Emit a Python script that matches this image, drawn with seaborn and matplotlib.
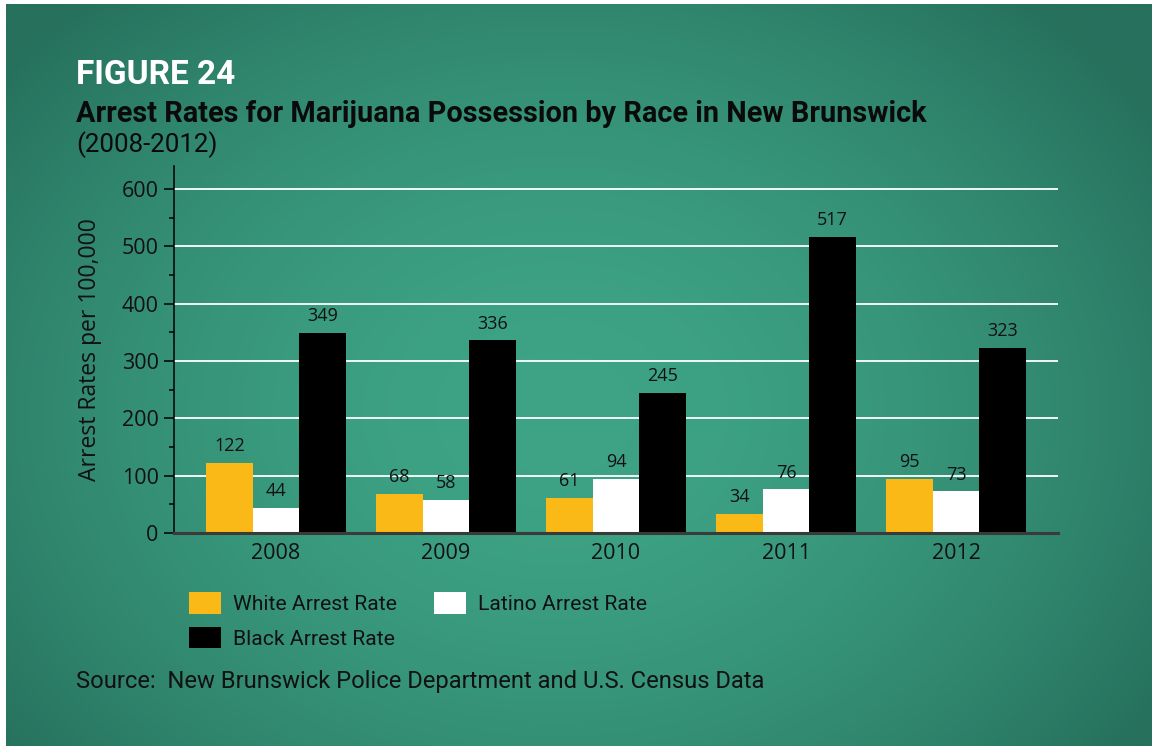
import numpy as np
import pandas as pd
import matplotlib
matplotlib.use("Agg")
import matplotlib.pyplot as plt
from matplotlib.patches import Patch
from matplotlib.ticker import MultipleLocator
import seaborn as sns

# ---- data -------------------------------------------------------------
years = ["2008", "2009", "2010", "2011", "2012"]
white_rate = [122, 68, 61, 34, 95]
latino_rate = [44, 58, 94, 76, 73]
black_rate = [349, 336, 245, 517, 323]
series_names = ["White Arrest Rate", "Latino Arrest Rate", "Black Arrest Rate"]
y_ticks = [0, 100, 200, 300, 400, 500, 600]

colors = {"White Arrest Rate": "#FBB917",
          "Latino Arrest Rate": "#FFFFFF",
          "Black Arrest Rate": "#000000"}

df = pd.DataFrame({
    "Year": years * 3,
    "Series": [series_names[0]] * 5 + [series_names[1]] * 5 + [series_names[2]] * 5,
    "Rate": white_rate + latino_rate + black_rate,
})

# ---- figure -----------------------------------------------------------
W, H = 1153, 746
sns.set_theme(style="white")
plt.rcParams["font.family"] = ["Roboto", "DejaVu Sans"]
BODY = ["Open Sans", "DejaVu Sans"]
fig = plt.figure(figsize=(W / 100, H / 100), dpi=100, facecolor="white")


def fx(px):
    return px / W


def fy(py):
    return 1 - py / H


# green panel with a soft radial glow
bg = fig.add_axes([fx(6), 0, fx(1152) - fx(6), fy(4)])
bg.set_axis_off()
ny, nx = 300, 460
yy, xx = np.mgrid[0:ny, 0:nx]
cx, cy = nx * 0.48, ny * 0.55
r = np.sqrt(((xx - cx) / (nx * 0.62)) ** 2 + ((yy - cy) / (ny * 0.75)) ** 2)
t = np.clip(r, 0, 1) ** 1.8
inner = np.array([62, 164, 133]) / 255
outer = np.array([38, 112, 92]) / 255
img = inner[None, None, :] * (1 - t[..., None]) + outer[None, None, :] * t[..., None]
bg.imshow(img, aspect="auto", extent=[0, 1, 0, 1], interpolation="bicubic")
bg.set_xlim(0, 1)
bg.set_ylim(0, 1)

# main chart
left, right, bottom, top = 174, 1058, 533, 166
ax = fig.add_axes([fx(left), fy(bottom), fx(right) - fx(left), fy(top) - fy(bottom)])
ax.set_facecolor("none")

sns.barplot(data=df, x="Year", y="Rate", hue="Series", hue_order=series_names,
            palette=colors, width=0.82, dodge=True, saturation=1,
            edgecolor="none", linewidth=0, ax=ax, legend=False, zorder=3)

ax.set_xlim(-0.6, 4.6)
ax.set_ylim(0, 640)
ax.set_yticks(y_ticks)
ax.yaxis.set_minor_locator(MultipleLocator(50))
for yv in y_ticks[1:]:
    ax.axhline(yv, color="white", lw=1.3, zorder=1)

for cont in ax.containers:
    ax.bar_label(cont, fmt="%d", padding=5.5, fontsize=13, color="#111111",
                 family=BODY)

for s in ["top", "right"]:
    ax.spines[s].set_visible(False)
ax.spines["left"].set_color("black")
ax.spines["left"].set_linewidth(1.1)
ax.spines["bottom"].set_color("#3a3a3a")
ax.spines["bottom"].set_linewidth(2.2)
ax.spines["bottom"].set_zorder(4)

ax.tick_params(axis="y", which="major", direction="out", length=7, width=1.1,
               color="black", labelsize=15.5, pad=4, left=True)
ax.tick_params(axis="y", which="minor", direction="out", length=3.5, width=1.1,
               color="black", left=True)
ax.tick_params(axis="x", length=0, labelsize=15.5, pad=7)
for lab in ax.get_yticklabels() + ax.get_xticklabels():
    lab.set_family(BODY)
    lab.set_color("#111111")

ax.set_xlabel("")
ax.set_ylabel("Arrest Rates per 100,000", fontsize=16.5, color="#111111",
              family=BODY, labelpad=14)

# titles
fig.text(fx(76), fy(84), "FIGURE 24", fontsize=24, fontweight="bold",
         color="white", va="baseline", ha="left")
fig.text(fx(76), fy(122), "Arrest Rates for Marijuana Possession by Race in New Brunswick",
         fontsize=20.8, fontweight="bold", color="#0a0a0a", va="baseline", ha="left")
fig.text(fx(76), fy(152), "(2008-2012)", fontsize=18.6, color="#0a0a0a",
         va="baseline", ha="left")

# legend
handles = [Patch(facecolor=colors[n], edgecolor="none", label=n)
           for n in ["White Arrest Rate", "Black Arrest Rate", "Latino Arrest Rate"]]
fig.legend(handles=handles, loc="upper left", bbox_to_anchor=(fx(189), fy(592)),
           ncol=2, frameon=False, fontsize=15.2, handlelength=1.5, handleheight=1.2,
           handletextpad=0.6, columnspacing=1.75, labelspacing=0.6, borderpad=0,
           borderaxespad=0, labelcolor="#111111")

fig.text(fx(76), fy(688), "Source:  New Brunswick Police Department and U.S. Census Data",
         fontsize=17.1, color="#111111", va="baseline", ha="left")

fig.savefig("out.png", dpi=100, facecolor="white")
